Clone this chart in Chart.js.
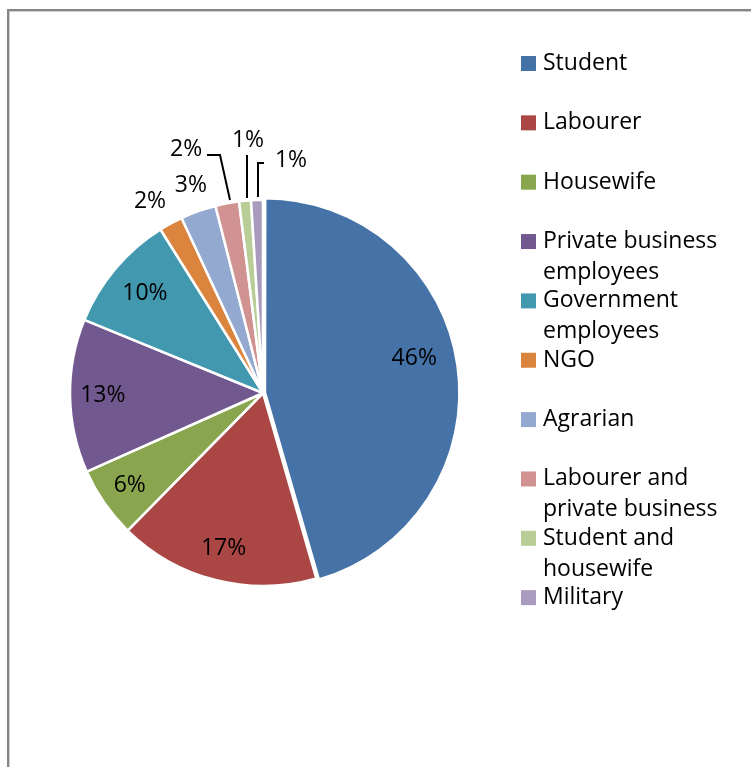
<!DOCTYPE html>
<html>
<head>
<meta charset="utf-8">
<title>Occupation</title>
<script src="https://cdn.jsdelivr.net/npm/chart.js@4/dist/chart.umd.min.js"></script>
<style>
    html, body { margin: 0; padding: 0; background: #fff; }
    #wrap { position: relative; width: 751px; height: 767px; overflow: hidden; }
    #frame {
        position: absolute; left: 7px; top: 9px; width: 800px; height: 800px;
        border-left: 2px solid #858585; border-top: 2px solid #858585;
        box-shadow: inset 1px 1px 0 #cfcfcf;
    }
    #chart { position: absolute; left: 0; top: 0; }
</style>
</head>
<body>
<div id="wrap">
    <div id="frame"></div>
    <canvas id="chart" width="751" height="767"></canvas>
</div>
<script>
    "use strict";

    // Occupation shares (%)
    const categories = [
        'Student', 'Labourer', 'Housewife', 'Private business employees',
        'Government employees', 'NGO', 'Agrarian', 'Labourer and private business',
        'Student and housewife', 'Military',
    ];
    const shares = [46, 17, 6, 13, 10, 2, 3, 2, 1, 1];
    const colors = [
        '#4572A7', '#AA4643', '#89A54E', '#71588F', '#4198AF',
        '#DB843D', '#93A9CF', '#D19392', '#B9CD96', '#A99BBD',
    ];

    const FONT = '23px "Open Sans", sans-serif';

    // where each percentage sits: r = fraction of radius along the slice middle,
    // dx/dy = nudge; leader = polyline relative to the slice's outer edge point
    const labelPlacement = [
        {r: 0.75, dx: 0, dy: -13},
        {r: 0.83},
        {r: 0.84},
        {r: 0.83},
        {r: 0.80},
        {r: 1.15, dx: -7, dy: 3},
        {r: 1.13, dx: 1, dy: -2},
        {r: 1, leader: [[3, -3], [-7, -48], [-20, -48]], label: [-41, -54]},
        {r: 1, leader: [[2, -3], [2, -46]], label: [3, -60]},
        {r: 1, leader: [[1, -3], [1, -37], [7, -37]], label: [34, -40]},
    ];

    // Percent labels + leader lines
    const sliceLabels = {
        id: 'sliceLabels',
        afterDatasetsDraw: function (chart) {
            const ctx = chart.ctx;
            const meta = chart.getDatasetMeta(0);
            ctx.save();
            ctx.font = FONT;
            ctx.fillStyle = '#000';
            ctx.strokeStyle = '#000';
            ctx.lineWidth = 2;
            ctx.textAlign = 'center';
            ctx.textBaseline = 'middle';
            meta.data.forEach(function (arc, i) {
                const p = arc.getProps(['x', 'y', 'startAngle', 'endAngle', 'outerRadius']);
                const mid = (p.startAngle + p.endAngle) / 2;
                const off = arc.options.offset || 0;
                const cx = p.x + Math.cos(mid) * off;
                const cy = p.y + Math.sin(mid) * off;
                const place = labelPlacement[i];
                const bx = cx + Math.cos(mid) * p.outerRadius * place.r;
                const by = cy + Math.sin(mid) * p.outerRadius * place.r;
                const text = shares[i] + '%';
                if (place.leader) {
                    ctx.beginPath();
                    place.leader.forEach(function (pt, k) {
                        const x = Math.round(bx + pt[0]);
                        const y = Math.round(by + pt[1]);
                        if (k === 0) ctx.moveTo(x, y); else ctx.lineTo(x, y);
                    });
                    ctx.stroke();
                    ctx.fillText(text, bx + place.label[0], by + place.label[1]);
                } else {
                    ctx.fillText(text, bx + (place.dx || 0), by + (place.dy || 0));
                }
            });
            ctx.restore();
        },
    };

    // Legend on the right, long names wrapped onto a second line
    const sideLegend = {
        id: 'sideLegend',
        afterDraw: function (chart) {
            const ctx = chart.ctx;
            const left = 521, top = 56, box = 15, step = 59.35, lineH = 31;
            ctx.save();
            ctx.font = FONT;
            ctx.textBaseline = 'middle';
            categories.forEach(function (name, i) {
                const y = top + i * step;
                ctx.fillStyle = colors[i];
                ctx.fillRect(left, y, box, box);
                ctx.fillStyle = '#000';
                wrap(ctx, name, 200).forEach(function (line, k) {
                    ctx.fillText(line, left + 22, y + box / 2 + k * lineH);
                });
            });
            ctx.restore();
        },
    };

    function wrap(ctx, text, maxWidth) {
        const words = text.split(' ');
        const lines = [];
        let cur = '';
        words.forEach(function (w) {
            const test = cur ? cur + ' ' + w : w;
            if (cur && ctx.measureText(test).width > maxWidth) {
                lines.push(cur);
                cur = w;
            } else {
                cur = test;
            }
        });
        if (cur) lines.push(cur);
        return lines;
    }

    new Chart(document.getElementById('chart'), {
        type: 'pie',
        data: {
            labels: categories,
            datasets: [{
                data: shares,
                backgroundColor: colors,
                borderColor: '#ffffff',
                borderWidth: 2.5,
                offset: shares.map((v, i) => (i === 0 ? 8 : 0)),
            }],
        },
        options: {
            responsive: false,
            animation: false,
            radius: 193,
            layout: {
                padding: {left: 60, right: 285, top: 192, bottom: 173},
            },
            plugins: {
                legend: {display: false},
                tooltip: {enabled: false},
            },
        },
        plugins: [sliceLabels, sideLegend],
    });
</script>
</body>
</html>
